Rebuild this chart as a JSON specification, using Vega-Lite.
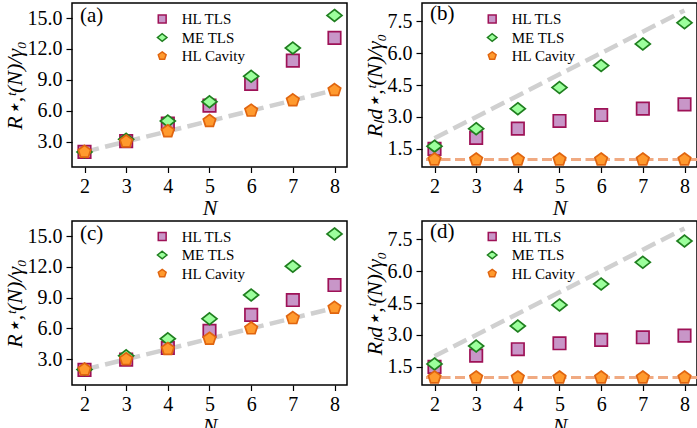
{
  "$schema": "https://vega.github.io/schema/vega-lite/v6.json",
  "padding": {"left": 2, "top": 0, "right": 0, "bottom": 0},
  "background": "white",
  "config": {
    "font": "Liberation Serif",
    "view": {"stroke": "black", "strokeWidth": 1.5},
    "axis": {"labelFont": "Liberation Serif", "labelFontSize": 20, "labelColor": "black", "titleFont": "Liberation Serif", "titleFontSize": 22, "titleFontStyle": "italic", "titleFontWeight": "normal", "titleColor": "black", "grid": false, "domain": false, "tickColor": "black", "tickWidth": 1.2},
    "axisX": {"tickSize": 5.5, "labelPadding": 4, "titlePadding": 1},
    "axisY": {"tickSize": 6, "labelPadding": 4, "titlePadding": 1},
    "legend": {"orient": "none", "title": null, "labelFont": "Liberation Serif", "labelFontSize": 15, "labelColor": "black", "symbolSize": 62, "symbolStrokeWidth": 1.5, "rowPadding": 2.5, "labelOffset": 12, "padding": 0},
    "title": {"font": "Liberation Serif", "fontSize": 21, "fontWeight": "normal", "color": "black", "anchor": "start", "frame": "group", "orient": "top", "offset": 0, "dx": 8, "dy": 27, "baseline": "alphabetic"}
  },
  "datasets": {
    "diag": [
      {"N": 2, "v": 2}, {"N": 3, "v": 3}, {"N": 4, "v": 4}, {"N": 5, "v": 5}, {"N": 6, "v": 6}, {"N": 7, "v": 7}, {"N": 8, "v": 8}
    ],
    "cav": [{"v": 1}],
    "pts": [
      {"p": "a", "s": "HL TLS", "N": 2, "v": 2.0}, {"p": "a", "s": "HL TLS", "N": 3, "v": 3.05}, {"p": "a", "s": "HL TLS", "N": 4, "v": 4.75}, {"p": "a", "s": "HL TLS", "N": 5, "v": 6.5}, {"p": "a", "s": "HL TLS", "N": 6, "v": 8.6}, {"p": "a", "s": "HL TLS", "N": 7, "v": 10.87}, {"p": "a", "s": "HL TLS", "N": 8, "v": 13.08},
      {"p": "a", "s": "ME TLS", "N": 2, "v": 1.98}, {"p": "a", "s": "ME TLS", "N": 3, "v": 3.23}, {"p": "a", "s": "ME TLS", "N": 4, "v": 5.0}, {"p": "a", "s": "ME TLS", "N": 5, "v": 6.87}, {"p": "a", "s": "ME TLS", "N": 6, "v": 9.34}, {"p": "a", "s": "ME TLS", "N": 7, "v": 12.1}, {"p": "a", "s": "ME TLS", "N": 8, "v": 15.26},
      {"p": "a", "s": "HL Cavity", "N": 2, "v": 2}, {"p": "a", "s": "HL Cavity", "N": 3, "v": 3}, {"p": "a", "s": "HL Cavity", "N": 4, "v": 4}, {"p": "a", "s": "HL Cavity", "N": 5, "v": 5}, {"p": "a", "s": "HL Cavity", "N": 6, "v": 6}, {"p": "a", "s": "HL Cavity", "N": 7, "v": 7}, {"p": "a", "s": "HL Cavity", "N": 8, "v": 8},
      {"p": "b", "s": "HL TLS", "N": 2, "v": 1.5}, {"p": "b", "s": "HL TLS", "N": 3, "v": 2.02}, {"p": "b", "s": "HL TLS", "N": 4, "v": 2.45}, {"p": "b", "s": "HL TLS", "N": 5, "v": 2.81}, {"p": "b", "s": "HL TLS", "N": 6, "v": 3.09}, {"p": "b", "s": "HL TLS", "N": 7, "v": 3.39}, {"p": "b", "s": "HL TLS", "N": 8, "v": 3.59},
      {"p": "b", "s": "ME TLS", "N": 2, "v": 1.63}, {"p": "b", "s": "ME TLS", "N": 3, "v": 2.45}, {"p": "b", "s": "ME TLS", "N": 4, "v": 3.39}, {"p": "b", "s": "ME TLS", "N": 5, "v": 4.38}, {"p": "b", "s": "ME TLS", "N": 6, "v": 5.41}, {"p": "b", "s": "ME TLS", "N": 7, "v": 6.43}, {"p": "b", "s": "ME TLS", "N": 8, "v": 7.42},
      {"p": "b", "s": "HL Cavity", "N": 2, "v": 1}, {"p": "b", "s": "HL Cavity", "N": 3, "v": 1}, {"p": "b", "s": "HL Cavity", "N": 4, "v": 1}, {"p": "b", "s": "HL Cavity", "N": 5, "v": 1}, {"p": "b", "s": "HL Cavity", "N": 6, "v": 1}, {"p": "b", "s": "HL Cavity", "N": 7, "v": 1}, {"p": "b", "s": "HL Cavity", "N": 8, "v": 1},
      {"p": "c", "s": "HL TLS", "N": 2, "v": 1.97}, {"p": "c", "s": "HL TLS", "N": 3, "v": 2.97}, {"p": "c", "s": "HL TLS", "N": 4, "v": 4.1}, {"p": "c", "s": "HL TLS", "N": 5, "v": 5.77}, {"p": "c", "s": "HL TLS", "N": 6, "v": 7.32}, {"p": "c", "s": "HL TLS", "N": 7, "v": 8.77}, {"p": "c", "s": "HL TLS", "N": 8, "v": 10.23},
      {"p": "c", "s": "ME TLS", "N": 2, "v": 2.0}, {"p": "c", "s": "ME TLS", "N": 3, "v": 3.35}, {"p": "c", "s": "ME TLS", "N": 4, "v": 5.0}, {"p": "c", "s": "ME TLS", "N": 5, "v": 6.94}, {"p": "c", "s": "ME TLS", "N": 6, "v": 9.26}, {"p": "c", "s": "ME TLS", "N": 7, "v": 12.06}, {"p": "c", "s": "ME TLS", "N": 8, "v": 15.2},
      {"p": "c", "s": "HL Cavity", "N": 2, "v": 2}, {"p": "c", "s": "HL Cavity", "N": 3, "v": 3}, {"p": "c", "s": "HL Cavity", "N": 4, "v": 4}, {"p": "c", "s": "HL Cavity", "N": 5, "v": 5}, {"p": "c", "s": "HL Cavity", "N": 6, "v": 6}, {"p": "c", "s": "HL Cavity", "N": 7, "v": 7}, {"p": "c", "s": "HL Cavity", "N": 8, "v": 8},
      {"p": "d", "s": "HL TLS", "N": 2, "v": 1.5}, {"p": "d", "s": "HL TLS", "N": 3, "v": 2.03}, {"p": "d", "s": "HL TLS", "N": 4, "v": 2.33}, {"p": "d", "s": "HL TLS", "N": 5, "v": 2.61}, {"p": "d", "s": "HL TLS", "N": 6, "v": 2.77}, {"p": "d", "s": "HL TLS", "N": 7, "v": 2.89}, {"p": "d", "s": "HL TLS", "N": 8, "v": 2.97},
      {"p": "d", "s": "ME TLS", "N": 2, "v": 1.64}, {"p": "d", "s": "ME TLS", "N": 3, "v": 2.48}, {"p": "d", "s": "ME TLS", "N": 4, "v": 3.42}, {"p": "d", "s": "ME TLS", "N": 5, "v": 4.41}, {"p": "d", "s": "ME TLS", "N": 6, "v": 5.39}, {"p": "d", "s": "ME TLS", "N": 7, "v": 6.41}, {"p": "d", "s": "ME TLS", "N": 8, "v": 7.41},
      {"p": "d", "s": "HL Cavity", "N": 2, "v": 1}, {"p": "d", "s": "HL Cavity", "N": 3, "v": 1}, {"p": "d", "s": "HL Cavity", "N": 4, "v": 1}, {"p": "d", "s": "HL Cavity", "N": 5, "v": 1}, {"p": "d", "s": "HL Cavity", "N": 6, "v": 1}, {"p": "d", "s": "HL Cavity", "N": 7, "v": 1}, {"p": "d", "s": "HL Cavity", "N": 8, "v": 1}
    ]
  },
  "columns": 2,
  "spacing": {"row": 54, "column": 75},
  "bounds": "flush",
  "resolve": {
    "scale": {"x": "independent", "y": "independent", "shape": "independent", "fill": "independent", "stroke": "independent"},
    "legend": {"shape": "independent", "fill": "independent", "stroke": "independent"}
  },
  "concat": [
    {
      "width": 275, "height": 164,
      "title": {"text": "(a)"},
      "layer": [
        {
          "data": {"name": "diag"},
          "mark": {"type": "line", "color": "#D0D0D0", "strokeWidth": 4.5, "strokeDash": [14.8, 6.4]},
          "encoding": {
            "x": {"field": "N", "type": "quantitative"},
            "y": {"field": "v", "type": "quantitative"}
          }
        },
        {
          "data": {"name": "pts"},
          "transform": [{"filter": "datum.p === 'a'"}],
          "mark": {"type": "point", "filled": true, "opacity": 1, "strokeWidth": 1.7, "size": 155},
          "encoding": {
            "x": {"field": "N", "type": "quantitative", "scale": {"domain": [1.7, 8.3], "nice": false, "zero": false}, "axis": {"values": [2, 3, 4, 5, 6, 7, 8]}, "title": "N"},
            "y": {"field": "v", "type": "quantitative", "scale": {"domain": [0.53, 16.47], "nice": false, "zero": false}, "axis": {"values": [3, 6, 9, 12, 15], "format": ".1f"}, "title": "R⋆,ᵗ(N)/γ₀"},
            "shape": {"field": "s", "type": "nominal", "scale": {"domain": ["HL TLS", "ME TLS", "HL Cavity"], "range": ["square", "M0,-0.95L1.2,0L0,0.95L-1.2,0Z", "M0,-1.05L1,-0.325L0.618,0.85L-0.618,0.85L-1,-0.325Z"]}, "legend": {"legendX": 82.7, "legendY": 8.5}},
            "fill": {"field": "s", "type": "nominal", "scale": {"domain": ["HL TLS", "ME TLS", "HL Cavity"], "range": ["#C896C8", "#9CFF9C", "#FF9A2E"]}, "legend": {"legendX": 82.7, "legendY": 8.5}},
            "stroke": {"field": "s", "type": "nominal", "scale": {"domain": ["HL TLS", "ME TLS", "HL Cavity"], "range": ["#9E1257", "#1F7F1F", "#E0650F"]}, "legend": {"legendX": 82.7, "legendY": 8.5}}
          }
        }
      ]
    },
    {
      "width": 275, "height": 164,
      "title": {"text": "(b)"},
      "layer": [
        {
          "data": {"name": "diag"},
          "mark": {"type": "line", "color": "#D0D0D0", "strokeWidth": 4.5, "strokeDash": [14.8, 6.4]},
          "encoding": {
            "x": {"field": "N", "type": "quantitative"},
            "y": {"field": "v", "type": "quantitative"}
          }
        },
        {
          "data": {"name": "cav"},
          "mark": {"type": "rule", "color": "#F0AA82", "strokeWidth": 3, "strokeDash": [10, 4.5]},
          "encoding": {"y": {"field": "v", "type": "quantitative"}}
        },
        {
          "data": {"name": "pts"},
          "transform": [{"filter": "datum.p === 'b'"}],
          "mark": {"type": "point", "filled": true, "opacity": 1, "strokeWidth": 1.7, "size": 155},
          "encoding": {
            "x": {"field": "N", "type": "quantitative", "scale": {"domain": [1.7, 8.3], "nice": false, "zero": false}, "axis": {"values": [2, 3, 4, 5, 6, 7, 8]}, "title": "N"},
            "y": {"field": "v", "type": "quantitative", "scale": {"domain": [0.65, 8.35], "nice": false, "zero": false}, "axis": {"values": [1.5, 3, 4.5, 6, 7.5], "format": ".1f"}, "title": "Rₗd⋆,ᵗ(N)/γ₀"},
            "shape": {"field": "s", "type": "nominal", "scale": {"domain": ["HL TLS", "ME TLS", "HL Cavity"], "range": ["square", "M0,-0.95L1.2,0L0,0.95L-1.2,0Z", "M0,-1.05L1,-0.325L0.618,0.85L-0.618,0.85L-1,-0.325Z"]}, "legend": {"legendX": 62.7, "legendY": 8.5}},
            "fill": {"field": "s", "type": "nominal", "scale": {"domain": ["HL TLS", "ME TLS", "HL Cavity"], "range": ["#C896C8", "#9CFF9C", "#FF9A2E"]}, "legend": {"legendX": 62.7, "legendY": 8.5}},
            "stroke": {"field": "s", "type": "nominal", "scale": {"domain": ["HL TLS", "ME TLS", "HL Cavity"], "range": ["#9E1257", "#1F7F1F", "#E0650F"]}, "legend": {"legendX": 62.7, "legendY": 8.5}}
          }
        }
      ]
    },
    {
      "width": 275, "height": 164,
      "title": {"text": "(c)"},
      "layer": [
        {
          "data": {"name": "diag"},
          "mark": {"type": "line", "color": "#D0D0D0", "strokeWidth": 4.5, "strokeDash": [14.8, 6.4]},
          "encoding": {
            "x": {"field": "N", "type": "quantitative"},
            "y": {"field": "v", "type": "quantitative"}
          }
        },
        {
          "data": {"name": "pts"},
          "transform": [{"filter": "datum.p === 'c'"}],
          "mark": {"type": "point", "filled": true, "opacity": 1, "strokeWidth": 1.7, "size": 155},
          "encoding": {
            "x": {"field": "N", "type": "quantitative", "scale": {"domain": [1.7, 8.3], "nice": false, "zero": false}, "axis": {"values": [2, 3, 4, 5, 6, 7, 8]}, "title": "N"},
            "y": {"field": "v", "type": "quantitative", "scale": {"domain": [0.5, 16.46], "nice": false, "zero": false}, "axis": {"values": [3, 6, 9, 12, 15], "format": ".1f"}, "title": "R⋆,ᵗ(N)/γ₀"},
            "shape": {"field": "s", "type": "nominal", "scale": {"domain": ["HL TLS", "ME TLS", "HL Cavity"], "range": ["square", "M0,-0.95L1.2,0L0,0.95L-1.2,0Z", "M0,-1.05L1,-0.325L0.618,0.85L-0.618,0.85L-1,-0.325Z"]}, "legend": {"legendX": 82.7, "legendY": 8}},
            "fill": {"field": "s", "type": "nominal", "scale": {"domain": ["HL TLS", "ME TLS", "HL Cavity"], "range": ["#C896C8", "#9CFF9C", "#FF9A2E"]}, "legend": {"legendX": 82.7, "legendY": 8}},
            "stroke": {"field": "s", "type": "nominal", "scale": {"domain": ["HL TLS", "ME TLS", "HL Cavity"], "range": ["#9E1257", "#1F7F1F", "#E0650F"]}, "legend": {"legendX": 82.7, "legendY": 8}}
          }
        }
      ]
    },
    {
      "width": 275, "height": 164,
      "title": {"text": "(d)"},
      "layer": [
        {
          "data": {"name": "diag"},
          "mark": {"type": "line", "color": "#D0D0D0", "strokeWidth": 4.5, "strokeDash": [14.8, 6.4]},
          "encoding": {
            "x": {"field": "N", "type": "quantitative"},
            "y": {"field": "v", "type": "quantitative"}
          }
        },
        {
          "data": {"name": "cav"},
          "mark": {"type": "rule", "color": "#F0AA82", "strokeWidth": 3, "strokeDash": [10, 4.5]},
          "encoding": {"y": {"field": "v", "type": "quantitative"}}
        },
        {
          "data": {"name": "pts"},
          "transform": [{"filter": "datum.p === 'd'"}],
          "mark": {"type": "point", "filled": true, "opacity": 1, "strokeWidth": 1.7, "size": 155},
          "encoding": {
            "x": {"field": "N", "type": "quantitative", "scale": {"domain": [1.7, 8.3], "nice": false, "zero": false}, "axis": {"values": [2, 3, 4, 5, 6, 7, 8]}, "title": "N"},
            "y": {"field": "v", "type": "quantitative", "scale": {"domain": [0.65, 8.35], "nice": false, "zero": false}, "axis": {"values": [1.5, 3, 4.5, 6, 7.5], "format": ".1f"}, "title": "Rₗd⋆,ᵗ(N)/γ₀"},
            "shape": {"field": "s", "type": "nominal", "scale": {"domain": ["HL TLS", "ME TLS", "HL Cavity"], "range": ["square", "M0,-0.95L1.2,0L0,0.95L-1.2,0Z", "M0,-1.05L1,-0.325L0.618,0.85L-0.618,0.85L-1,-0.325Z"]}, "legend": {"legendX": 62.7, "legendY": 8}},
            "fill": {"field": "s", "type": "nominal", "scale": {"domain": ["HL TLS", "ME TLS", "HL Cavity"], "range": ["#C896C8", "#9CFF9C", "#FF9A2E"]}, "legend": {"legendX": 62.7, "legendY": 8}},
            "stroke": {"field": "s", "type": "nominal", "scale": {"domain": ["HL TLS", "ME TLS", "HL Cavity"], "range": ["#9E1257", "#1F7F1F", "#E0650F"]}, "legend": {"legendX": 62.7, "legendY": 8}}
          }
        }
      ]
    }
  ]
}
